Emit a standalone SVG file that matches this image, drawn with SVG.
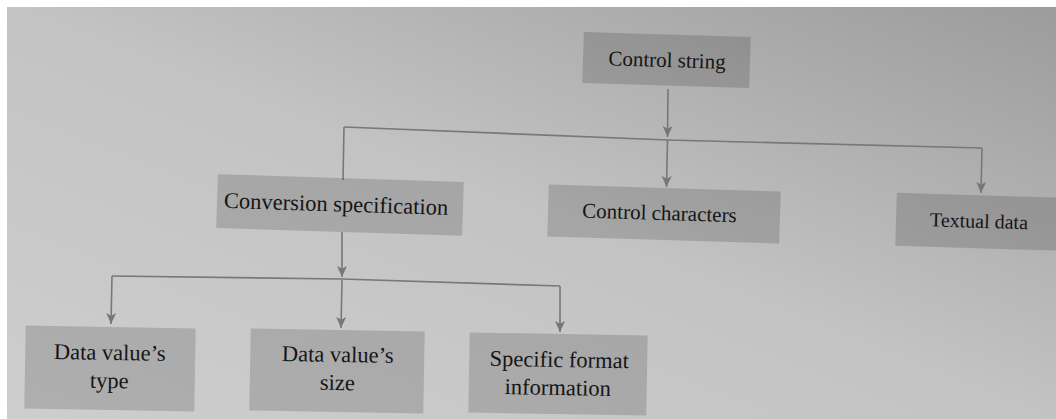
<svg xmlns="http://www.w3.org/2000/svg" width="1056" height="419" viewBox="0 0 1056 419">
  <defs>
    <linearGradient id="paper" x1="0" y1="1" x2="1" y2="0">
      <stop offset="0" stop-color="#cecece"/>
      <stop offset="0.5" stop-color="#c3c3c3"/>
      <stop offset="1" stop-color="#9b9b9b"/>
    </linearGradient>
    <marker id="arrow" viewBox="0 0 10 10" refX="10" refY="5" markerWidth="11" markerHeight="11" markerUnits="userSpaceOnUse" orient="auto">
      <path d="M0,0.5 L10,5 L0,9.5 L2.5,5 Z" fill="#777"/>
    </marker>
    <style>
      .box { fill: #000; fill-opacity: 0.15; }
      .label { font-family: "Liberation Serif", "Times New Roman", serif; fill: #151515; text-anchor: middle; }
      .conn { fill: none; stroke: #787878; stroke-width: 1.6; }
      .arr { marker-end: url(#arrow); }
    </style>
  </defs>

  <!-- page background -->
  <rect x="0" y="0" width="1056" height="419" fill="url(#paper)"/>
  <rect x="0" y="0" width="1056" height="7" fill="#fff"/>
  <rect x="0" y="0" width="7" height="419" fill="#fff"/>

  <!-- connectors -->
  <g id="connectors">
    <line class="conn arr" x1="668" y1="89" x2="667.5" y2="137"/>
    <line class="conn arr" x1="667.5" y1="140" x2="666.5" y2="187"/>
    <polyline class="conn" points="344,127 668,140 982,148"/>
    <line class="conn" x1="344" y1="127" x2="343" y2="180"/>
    <line class="conn arr" x1="982" y1="148" x2="981" y2="193"/>

    <line class="conn arr" x1="342" y1="232" x2="342" y2="277"/>
    <polyline class="conn" points="112,276 342,279 560,286"/>
    <line class="conn arr" x1="112" y1="276" x2="111" y2="324"/>
    <line class="conn arr" x1="342" y1="280" x2="341" y2="328"/>
    <line class="conn arr" x1="560" y1="286" x2="560" y2="332"/>
  </g>

  <!-- nodes -->
  <g id="control-string" transform="rotate(1.7 666.5 60)">
    <rect class="box" x="583" y="34.5" width="167" height="51"/>
    <text class="label" x="667" y="67" font-size="21">Control string</text>
  </g>

  <g id="conversion-specification" transform="rotate(1.8 340 205)">
    <rect class="box" x="217" y="178" width="246" height="54"/>
    <text class="label" x="336" y="211.5" font-size="22.5">Conversion specification</text>
  </g>

  <g id="control-characters" transform="rotate(1.7 664 214)">
    <rect class="box" x="548" y="188" width="232" height="52"/>
    <text class="label" x="659.5" y="220" font-size="21">Control characters</text>
  </g>

  <g id="textual-data" transform="rotate(1.7 986 222)">
    <rect class="box" x="896" y="195.5" width="180" height="53"/>
    <text class="label" x="979" y="228" font-size="20">Textual data</text>
  </g>

  <g id="data-value-type" transform="rotate(1 110 368)">
    <rect class="box" x="25" y="327" width="170" height="83"/>
    <text class="label" x="109.5" y="360" font-size="22.5">Data value’s</text>
    <text class="label" x="109.5" y="388" font-size="22.5">type</text>
  </g>

  <g id="data-value-size" transform="rotate(1 337 371)">
    <rect class="box" x="250" y="330" width="174" height="82"/>
    <text class="label" x="337.5" y="362" font-size="22.5">Data value’s</text>
    <text class="label" x="337.5" y="390" font-size="22.5">size</text>
  </g>

  <g id="specific-format-information" transform="rotate(1 558 374)">
    <rect class="box" x="469" y="334" width="178" height="80"/>
    <text class="label" x="559" y="367" font-size="22.5">Specific format</text>
    <text class="label" x="558" y="395" font-size="22.5">information</text>
  </g>
</svg>
